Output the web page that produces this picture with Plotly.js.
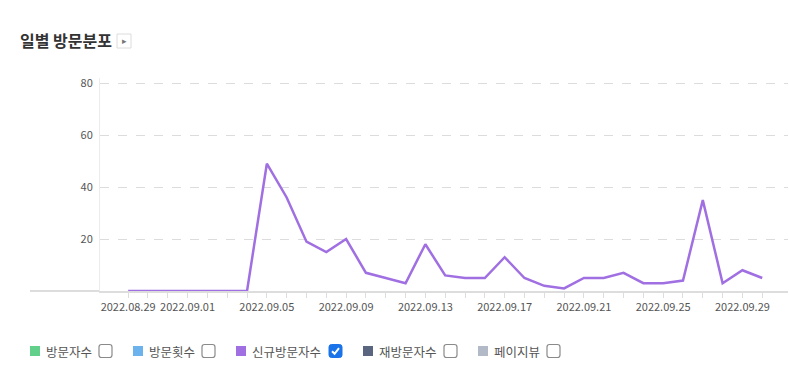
<!DOCTYPE html>
<html>
<head>
<meta charset="utf-8">
<script src="https://cdn.plot.ly/plotly-3.0.1.min.js"></script>
<style>
html,body{margin:0;padding:0;background:#fff;}
#chart{width:789px;height:376px;}
</style>
</head>
<body>
<div id="chart"></div>
<script>
// ---- data ----
const dates = ["2022.08.29","2022.08.30","2022.08.31","2022.09.01","2022.09.02","2022.09.03","2022.09.04",
  "2022.09.05","2022.09.06","2022.09.07","2022.09.08","2022.09.09","2022.09.10","2022.09.11","2022.09.12",
  "2022.09.13","2022.09.14","2022.09.15","2022.09.16","2022.09.17","2022.09.18","2022.09.19","2022.09.20",
  "2022.09.21","2022.09.22","2022.09.23","2022.09.24","2022.09.25","2022.09.26","2022.09.27","2022.09.28",
  "2022.09.29","2022.09.30"];
const newVisitors = [0,0,0,0,0,0,0,49,36,19,15,20,7,5,3,18,6,5,5,13,5,2,1,5,5,7,3,3,4,35,3,8,5];
const labeledDates = ["2022.08.29","2022.09.01","2022.09.05","2022.09.09","2022.09.13","2022.09.17","2022.09.21","2022.09.25","2022.09.29"];
const yTicks = [20,40,60,80];
const legendNames = ["방문자수","방문횟수","신규방문자수","재방문자수","페이지뷰"];
const legendColors = ["#62d08b","#6cb3ee","#a06fe2","#5a6680","#b2bac7"];
const legendChecked = [false,false,true,false,false];

// ---- layout helpers (pixel -> paper) ----
const L = 100, R = 788, T = 78, B = 291;
const px = x => (x - L) / (R - L);
const py = y => (B - y) / (B - T);

const tickText = dates.map(d => labeledDates.includes(d) ? d : "");

const shapes = [];
const annotations = [];

function roundRect(x0, y0, w, h, r) {
  const p = [];
  p.push(`M ${px(x0+r)} ${py(y0)}`);
  p.push(`L ${px(x0+w-r)} ${py(y0)}`);
  p.push(`Q ${px(x0+w)} ${py(y0)} ${px(x0+w)} ${py(y0+r)}`);
  p.push(`L ${px(x0+w)} ${py(y0+h-r)}`);
  p.push(`Q ${px(x0+w)} ${py(y0+h)} ${px(x0+w-r)} ${py(y0+h)}`);
  p.push(`L ${px(x0+r)} ${py(y0+h)}`);
  p.push(`Q ${px(x0)} ${py(y0+h)} ${px(x0)} ${py(y0+h-r)}`);
  p.push(`L ${px(x0)} ${py(y0+r)}`);
  p.push(`Q ${px(x0)} ${py(y0)} ${px(x0+r)} ${py(y0)}`);
  p.push("Z");
  return p.join(" ");
}

// baseline extension to the left
shapes.push({type:"line", xref:"paper", yref:"paper", x0:px(30), x1:0, y0:0, y1:0,
  line:{color:"#dddddd", width:2}, layer:"below"});

// title button
shapes.push({type:"rect", xref:"paper", yref:"paper", x0:px(117), x1:px(131), y0:py(34), y1:py(48),
  line:{color:"#dcdcdc", width:1}, fillcolor:"#ffffff"});
annotations.push({xref:"paper", yref:"paper", x:px(124.5), y:py(41), text:"▸", showarrow:false,
  font:{size:9, color:"#777", family:"DejaVu Sans"}, xanchor:"center", yanchor:"middle"});

// legend
const sqX = [30,133,236,363,478];
const boxX = [99,202,329,444,547];
const legY = 351;
legendNames.forEach((n,i) => {
  const x0 = sqX[i];
  shapes.push({type:"rect", xref:"paper", yref:"paper", x0:px(x0), x1:px(x0+10), y0:py(legY-5), y1:py(legY+5),
    line:{width:0}, fillcolor:legendColors[i]});
  annotations.push({xref:"paper", yref:"paper", x:px(x0+14), y:py(legY), text:n, showarrow:false,
    xanchor:"left", yanchor:"middle", font:{size:12.5, color:"#555", family:"Noto Sans CJK KR"}});
  const cx = boxX[i];
  if (legendChecked[i]) {
    shapes.push({type:"path", xref:"paper", yref:"paper", path:roundRect(cx, legY-6.5, 13, 13, 2.5),
      line:{color:"#1a73e8", width:1}, fillcolor:"#1a73e8"});
    shapes.push({type:"path", xref:"paper", yref:"paper",
      path:`M ${px(cx+3)} ${py(legY+0.2)} L ${px(cx+5.6)} ${py(legY+2.8)} L ${px(cx+10)} ${py(legY-2.8)}`,
      line:{color:"#ffffff", width:2}});
  } else {
    shapes.push({type:"path", xref:"paper", yref:"paper", path:roundRect(cx, legY-6.5, 13, 13, 2.5),
      line:{color:"#8a8a8a", width:1.2}, fillcolor:"#ffffff"});
  }
});

const trace = {
  type:"scatter", mode:"lines", x:dates, y:newVisitors, name:"신규방문자수",
  line:{color:"#a06fe2", width:2.5}, hoverinfo:"x+y"
};

const layout = {
  width:789, height:376,
  margin:{l:L, r:789-R, t:T, b:376-B},
  paper_bgcolor:"#ffffff", plot_bgcolor:"#ffffff",
  showlegend:false,
  font:{family:"Noto Sans CJK KR, sans-serif", color:"#555"},
  title:{text:"<b>일별 방문분포</b>", xref:"container", yref:"container", x:20/789, xanchor:"left",
    y:1-41/376, yanchor:"middle", font:{size:16, color:"#333", family:"Noto Sans CJK KR"}},
  xaxis:{type:"category", range:[-1.42, 33.3], tickmode:"array", tickvals:dates, ticktext:tickText,
    ticks:"outside", ticklen:5, tickcolor:"#dddddd", tickwidth:1,
    showline:true, linecolor:"#dddddd", linewidth:2, showgrid:false, zeroline:false,
    tickfont:{size:11, color:"#555", family:"Noto Sans CJK KR"}, tickangle:0, fixedrange:true},
  yaxis:{range:[0,82], tickmode:"array", tickvals:yTicks, ticks:"", showline:true, linecolor:"#ececec", linewidth:1,
    showgrid:true, gridcolor:"#dcdcdc", griddash:"dash", gridwidth:1, zeroline:false,
    ticklabelstandoff:4, tickfont:{size:11, color:"#555", family:"Noto Sans CJK KR"}, fixedrange:true},
  shapes:shapes, annotations:annotations
};

Plotly.newPlot("chart", [trace], layout, {displayModeBar:false, staticPlot:true});
</script>
</body>
</html>
